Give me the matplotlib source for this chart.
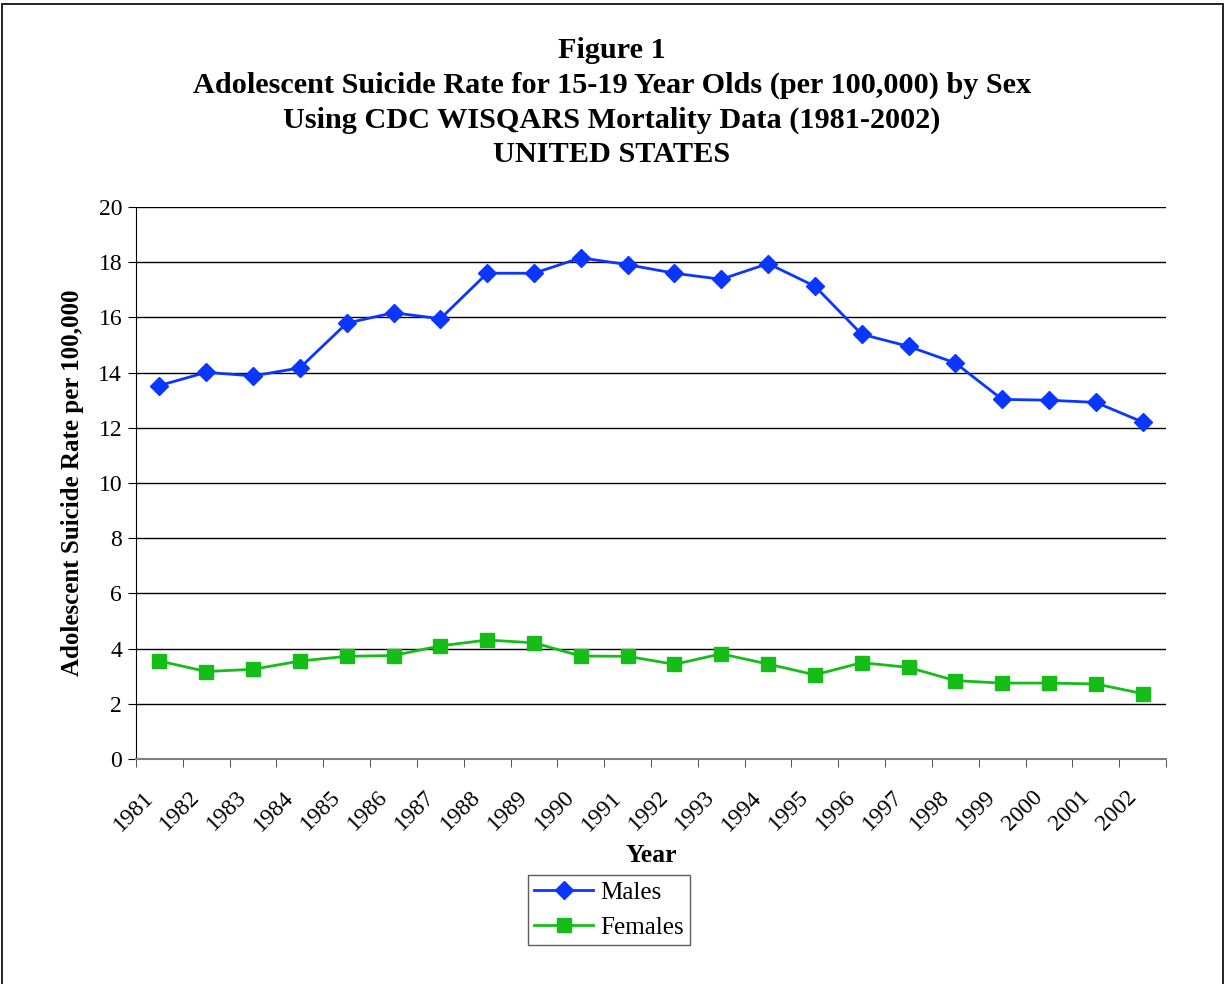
import matplotlib.pyplot as plt
from matplotlib.patches import Rectangle
from matplotlib.ticker import FixedLocator, MultipleLocator
import numpy as np

years = [str(y) for y in range(1981, 2003)]
males = [13.53, 14.01, 13.88, 14.17, 15.79, 16.17, 15.95, 17.60, 17.60, 18.16, 17.91,
         17.60, 17.38, 17.95, 17.13, 15.39, 14.95, 14.35, 13.03, 13.00, 12.92, 12.21]
females = [3.55, 3.17, 3.25, 3.55, 3.72, 3.75, 4.10, 4.31, 4.21, 3.73, 3.72,
           3.43, 3.81, 3.44, 3.05, 3.49, 3.32, 2.84, 2.75, 2.75, 2.72, 2.37]

title_lines = [
    "Figure 1",
    "Adolescent Suicide Rate for 15-19 Year Olds (per 100,000) by Sex",
    "Using CDC WISQARS Mortality Data (1981-2002)",
    "UNITED STATES",
]

plt.rcParams["font.family"] = ["Liberation Serif", "DejaVu Serif"]

W, H = 1225, 984
fig = plt.figure(figsize=(W / 100, H / 100), dpi=100)

# outer chart frame
fig.patches.append(Rectangle((1.5 / W, -0.01), (W - 4) / W, 1 - 3.5 / H + 0.01,
                             transform=fig.transFigure, fill=False,
                             edgecolor="#222222", linewidth=1.4))

ax = fig.add_axes([136 / W, 1 - 759 / H, (1166 - 136) / W, (759 - 207) / H])

x = np.arange(len(years))
ax.plot(x, males, color="#0a36ff", linewidth=2.0, marker="D", markersize=9.5,
        label="Males")
ax.plot(x, females, color="#16bd19", linewidth=2.0, marker="s", markersize=9.5,
        label="Females")

ax.set_xlim(-0.5, len(years) - 0.5)
ax.set_ylim(0, 20)
ax.yaxis.set_major_locator(MultipleLocator(2))
ax.grid(axis="y", color="black", linewidth=1.0)
ax.set_axisbelow(True)

for side in ("top", "right"):
    ax.spines[side].set_visible(False)
ax.spines["left"].set_color("black")
ax.spines["bottom"].set_color("#808080")
ax.spines["bottom"].set_linewidth(1.5)

# slanted year labels end just left of each category centre;
# the visible tick marks sit on the category boundaries
ax.set_xticks(x - 0.36)
ax.set_xticklabels(years, rotation=45, ha="right", rotation_mode="anchor",
                   fontsize=17)
ax.tick_params(axis="x", which="major", length=0, pad=20)
ax.xaxis.set_minor_locator(FixedLocator(np.arange(-0.5, len(years), 1.0)))
ax.tick_params(axis="x", which="minor", length=6, direction="out", color="#333333")
ax.tick_params(axis="y", length=6, direction="out", labelsize=17, pad=4)

for i, line in enumerate(title_lines):
    fig.text(612 / W, 1 - (50 + 35 * i) / H, line, ha="center", va="center",
             fontsize=21.8, fontweight="bold")

fig.text(73 / W, 1 - 483 / H, "Adolescent Suicide Rate per 100,000", rotation=90,
         ha="center", va="center", fontsize=18, fontweight="bold")
fig.text(651 / W, 1 - 855 / H, "Year", ha="center", va="center",
         fontsize=18.5, fontweight="bold")

leg = fig.legend(loc="upper left", bbox_to_anchor=(528 / W, 1 - 875 / H),
                 fontsize=18, frameon=True, fancybox=False, handlelength=2.35,
                 borderpad=0.25, labelspacing=0.5, handletextpad=0.3,
                 borderaxespad=0)
leg.get_frame().set_edgecolor("#333333")
leg.get_frame().set_linewidth(1.0)

fig.savefig("out.png", dpi=100)
